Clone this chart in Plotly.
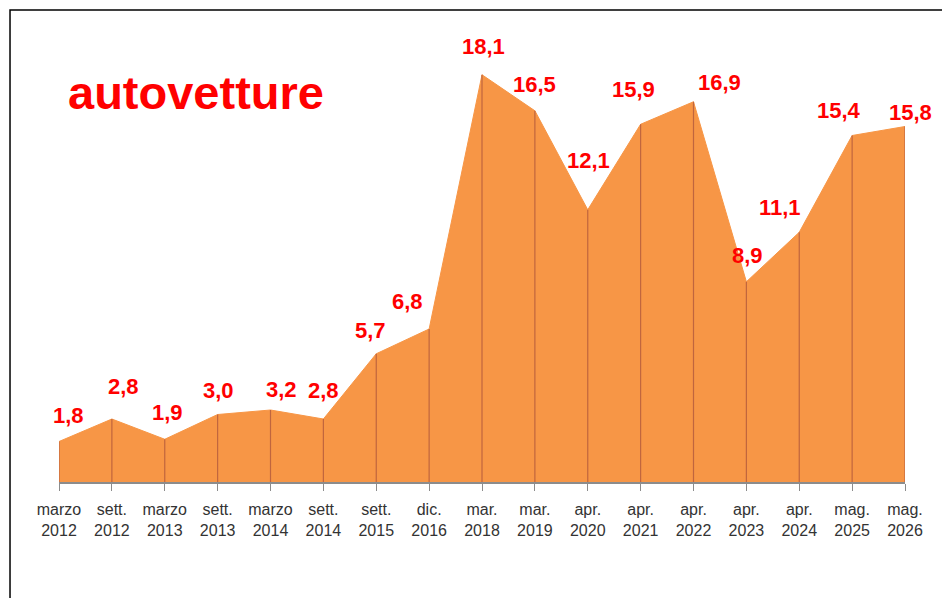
import plotly.graph_objects as go

months = ["marzo", "sett.", "marzo", "sett.", "marzo", "sett.", "sett.", "dic.", "mar.",
          "mar.", "apr.", "apr.", "apr.", "apr.", "apr.", "mag.", "mag."]
years = ["2012", "2012", "2013", "2013", "2014", "2014", "2015", "2016", "2018",
         "2019", "2020", "2021", "2022", "2023", "2024", "2025", "2026"]
values = [1.8, 2.8, 1.9, 3.0, 3.2, 2.8, 5.7, 6.8, 18.1, 16.5, 12.1, 15.9, 16.9, 8.9, 11.1, 15.4, 15.8]

# label nudges in pixels (style only)
label_dx = [9, 12, 3, 1, 11, 0, -6, -22, 1, 0, 1, -7, 26, 1, -19, -13, 5]
label_dy = [26, 33, 27, 24, 21, 29, 23, 28, 28, 26, 49, 35, 19, 26, 25, 25, 14]

idx = list(range(len(values)))
tick_text = [f"{m}<br>{y}" for m, y in zip(months, years)]

FONT = "Liberation Sans, Arial, sans-serif"

fig = go.Figure()
fig.add_trace(go.Scatter(
    x=idx, y=values, mode="lines", fill="tozeroy",
    fillcolor="#F79646", line=dict(color="#F79646", width=1),
    hoverinfo="skip", showlegend=False,
))

vx, vy = [], []
for i, v in zip(idx, values):
    vx += [i, i, None]
    vy += [0, v, None]
fig.add_trace(go.Scatter(
    x=vx, y=vy, mode="lines", line=dict(color="#C0653E", width=1.2),
    hoverinfo="skip", showlegend=False,
))

for i, v, dx, dy in zip(idx, values, label_dx, label_dy):
    fig.add_annotation(
        x=i, y=v, text=f"{v:.1f}".replace(".", ","), showarrow=False,
        xshift=dx, yshift=dy, xanchor="center", yanchor="middle",
        font=dict(family=FONT, size=22, color="#FF0000", weight="bold"),
    )

fig.add_annotation(
    x=0.008, y=0.866, xref="paper", yref="paper", text="autovetture",
    showarrow=False, xanchor="left", yanchor="middle",
    font=dict(family=FONT, size=47, color="#FF0000", weight="bold"),
)

fig.add_shape(
    type="rect", xref="paper", yref="paper",
    x0=-0.0579, x1=1.2, y0=-0.5, y1=1.0489,
    line=dict(color="#000000", width=1.5), fillcolor="rgba(0,0,0,0)", layer="above",
)

fig.update_layout(
    width=942, height=598,
    margin=dict(l=59, r=37, t=32, b=116),
    paper_bgcolor="#FFFFFF", plot_bgcolor="#FFFFFF",
    xaxis=dict(
        range=[0, 16], tickmode="array", tickvals=idx, ticktext=tick_text,
        showgrid=False, zeroline=False, showline=True, linecolor="#8C8C8C", linewidth=2,
        ticks="outside", ticklen=7, tickcolor="#8C8C8C", tickwidth=1,
        ticklabelstandoff=5,
        tickfont=dict(family=FONT, size=16, color="#333333"),
    ),
    yaxis=dict(range=[0, 20], visible=False, showgrid=False, zeroline=False),
)

fig.write_html(
    "out.html",
    config={"displayModeBar": False},
    post_script="document.body.style.margin='0';document.body.style.overflow='hidden';",
)
